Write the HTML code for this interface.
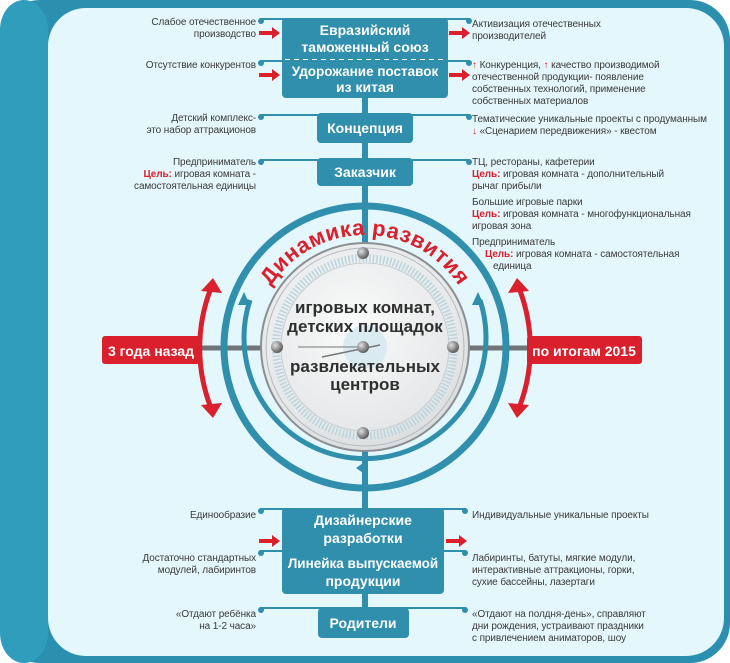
<!DOCTYPE html>
<html><head><meta charset="utf-8"><style>
html,body{margin:0;padding:0;background:#fff}
svg{display:block}
.t{font-family:"Liberation Sans Narrow","Liberation Sans",sans-serif;font-size:10px;fill:#3a3a3a;letter-spacing:-0.1px}
.b{font-family:"Liberation Sans","DejaVu Sans",sans-serif;font-weight:bold;fill:#fff;font-size:14px}
.r{fill:#d9202c;font-weight:bold}
</style></head><body>
<svg width="730" height="663" viewBox="0 0 730 663" xmlns="http://www.w3.org/2000/svg">
<defs>
<radialGradient id="face" cx="0.45" cy="0.4" r="0.7"><stop offset="0" stop-color="#fafbfb"/><stop offset="0.7" stop-color="#e6e8e9"/><stop offset="1" stop-color="#cfd3d5"/></radialGradient>
<radialGradient id="bolt" cx="0.35" cy="0.35" r="0.7"><stop offset="0" stop-color="#e0e0e0"/><stop offset="1" stop-color="#555"/></radialGradient>
<path id="arcT" d="M 253 347 A 112 112 0 0 1 477 347"/>
</defs>
<rect x="0" y="0" width="730" height="663" rx="40" fill="#2b90b0"/>
<rect x="0" y="0" width="48" height="663" rx="30" fill="#2f9dbb"/>
<rect x="48" y="8" width="676" height="648" rx="38" fill="#e4f7fc"/>

<line x1="365" y1="18" x2="365" y2="610" stroke="#2f8fac" stroke-width="6"/>
<line x1="200" y1="348" x2="530" y2="348" stroke="#6f7478" stroke-width="5"/>

<g fill="#2f8fac">
<rect x="282" y="18" width="166" height="80" rx="4"/>
<rect x="317" y="113" width="96" height="30" rx="4"/>
<rect x="317" y="158" width="96" height="28" rx="4"/>
<rect x="282" y="508" width="162" height="86" rx="4"/>
<rect x="318" y="608" width="91" height="30" rx="4"/>
</g>
<line x1="285" y1="60" x2="446" y2="60" stroke="#fff" stroke-width="2" stroke-dasharray="5,4"/>
<line x1="285" y1="551" x2="442" y2="551" stroke="#fff" stroke-width="2" stroke-dasharray="5,4"/>
<g stroke="#2f8fac" stroke-width="2" fill="#2f8fac">
<line x1="260" y1="19" x2="470" y2="19"/>
<line x1="260" y1="61" x2="470" y2="61"/>
<line x1="260" y1="115" x2="470" y2="115"/>
<line x1="260" y1="160" x2="470" y2="160"/>
<line x1="260" y1="509" x2="466" y2="509"/>
<line x1="260" y1="551" x2="466" y2="551"/>
<line x1="260" y1="608" x2="466" y2="608"/>
</g>
<g fill="#2f8fac">
<circle cx="261" cy="21" r="3"/><circle cx="469" cy="21" r="3"/>
<circle cx="261" cy="63" r="3"/><circle cx="469" cy="63" r="3"/>
<circle cx="261" cy="117" r="3"/><circle cx="469" cy="117" r="3"/>
<circle cx="261" cy="162" r="3"/><circle cx="469" cy="162" r="3"/>
<circle cx="261" cy="511" r="3"/><circle cx="465" cy="511" r="3"/>
<circle cx="261" cy="553" r="3"/><circle cx="465" cy="553" r="3"/>
<circle cx="261" cy="610" r="3"/><circle cx="465" cy="610" r="3"/>
</g>
<g fill="#d9202c">
<path d="M259 31h13v-4l8 6-8 6v-4h-13z"/>
<path d="M259 73h13v-4l8 6-8 6v-4h-13z"/>
<path d="M449 31h13v-4l8 6-8 6v-4h-13z"/>
<path d="M449 73h13v-4l8 6-8 6v-4h-13z"/>
<path d="M259 539h13v-4l8 6-8 6v-4h-13z"/>
<path d="M446 539h13v-4l8 6-8 6v-4h-13z"/>
</g>

<g class="b" text-anchor="middle">
<text x="365" y="35">Евразийский</text>
<text x="365" y="52">таможенный союз</text>
<text x="365" y="76" font-size="13.5">Удорожание поставок</text>
<text x="365" y="92">из китая</text>
<text x="365" y="133">Концепция</text>
<text x="365" y="177">Заказчик</text>
<text x="363" y="525">Дизайнерские</text>
<text x="363" y="543">разработки</text>
<text x="363" y="568" font-size="13.5">Линейка выпускаемой</text>
<text x="363" y="586">продукции</text>
<text x="363" y="628">Родители</text>
</g>

<g class="t" text-anchor="end">
<text x="256" y="25">Слабое отечественное</text>
<text x="256" y="37">производство</text>
<text x="256" y="68">Отсутствие конкурентов</text>
<text x="256" y="121">Детский комплекс-</text>
<text x="256" y="133">это набор аттракционов</text>
<text x="256" y="165">Предприниматель</text>
<text x="256" y="177"><tspan class="r">Цель:</tspan> игровая комната -</text>
<text x="256" y="189">самостоятельная единицы</text>
<text x="256" y="518">Единообразие</text>
<text x="256" y="561">Достаточно стандартных</text>
<text x="256" y="573">модулей, лабиринтов</text>
<text x="256" y="617">«Отдают ребёнка</text>
<text x="256" y="629">на 1-2 часа»</text>
</g>
<g class="t">
<text x="472" y="27">Активизация отечественных</text>
<text x="472" y="39">производителей</text>
<text x="472" y="68"><tspan class="r">↑</tspan> Конкуренция, <tspan class="r">↑</tspan> качество производимой</text>
<text x="472" y="80">отечественной продукции- появление</text>
<text x="472" y="92">собственных технологий, применение</text>
<text x="472" y="104">собственных материалов</text>
<text x="472" y="122">Тематические уникальные проекты с продуманным</text>
<text x="472" y="134"><tspan class="r">↓</tspan> «Сценарием передвижения» - квестом</text>
<text x="472" y="165">ТЦ, рестораны, кафетерии</text>
<text x="472" y="177"><tspan class="r">Цель:</tspan> игровая комната - дополнительный</text>
<text x="472" y="189">рычаг прибыли</text>
<text x="472" y="205">Большие игровые парки</text>
<text x="472" y="217"><tspan class="r">Цель:</tspan> игровая комната - многофункциональная</text>
<text x="472" y="229">игровая зона</text>
<text x="472" y="245">Предприниматель</text>
<text x="485" y="257"><tspan class="r">Цель:</tspan> игровая комната - самостоятельная</text>
<text x="493" y="269">единица</text>
<text x="472" y="518">Индивидуальные уникальные проекты</text>
<text x="472" y="561">Лабиринты, батуты, мягкие модули,</text>
<text x="472" y="573">интерактивные аттракционы, горки,</text>
<text x="472" y="585">сухие бассейны, лазертаги</text>
<text x="472" y="617">«Отдают на полдня-день», справляют</text>
<text x="472" y="629">дни рождения, устраивают праздники</text>
<text x="472" y="641">с привлечением аниматоров, шоу</text>
</g>

<g stroke="#d9202c" stroke-width="5" fill="none">
<path d="M 211 288 A 165 165 0 0 0 211 408"/>
<path d="M 519 288 A 165 165 0 0 1 519 408"/>
</g>
<g fill="#d9202c">
<path d="M201 291 l12 -13 l9 15 z"/>
<path d="M201 405 l12 13 l9 -15 z"/>
<path d="M529 291 l-12 -13 l-9 15 z"/>
<path d="M529 405 l-12 13 l-9 -15 z"/>
</g>
<rect x="102" y="336" width="98" height="28" rx="3" fill="#d9202c"/>
<rect x="527" y="336" width="115" height="28" rx="3" fill="#d9202c"/>
<text x="151" y="356" text-anchor="middle" class="b" font-size="14">3 года назад</text>
<text x="584" y="356" text-anchor="middle" class="b" font-size="14">по итогам 2015</text>

<circle cx="365" cy="347" r="141" fill="none" stroke="#2f8fac" stroke-width="7"/>
<path d="M 250 300 A 121 121 0 1 0 480 300" fill="none" stroke="#2f8fac" stroke-width="5"/>
<path d="M244 292 l-6 13 h12 z" fill="#2f8fac"/>
<path d="M478 292 l-6 13 h12 z" fill="#2f8fac"/>
<path d="M356 468 l10 -7 v14 z" fill="#2f8fac"/>

<circle cx="365" cy="347" r="104" fill="url(#face)" stroke="#8a8f92" stroke-width="2"/>
<circle cx="365" cy="347" r="99" fill="none" stroke="#b5babd" stroke-width="1"/>
<circle cx="365" cy="347" r="89" fill="none" stroke="#b9d4df" stroke-width="8" stroke-dasharray="1.5,2"/>
<circle cx="365" cy="347" r="84" fill="none" stroke="#c5ced2" stroke-width="1"/>
<circle cx="365" cy="347" r="22" fill="#cfe6ef" opacity="0.7"/>
<line x1="298" y1="347" x2="365" y2="347" stroke="#777" stroke-width="1"/>
<line x1="322" y1="357" x2="380" y2="345" stroke="#777" stroke-width="1.5"/>
<circle cx="363" cy="253" r="6" fill="url(#bolt)"/>
<circle cx="277" cy="347" r="6" fill="url(#bolt)"/>
<circle cx="453" cy="347" r="6" fill="url(#bolt)"/>
<circle cx="363" cy="433" r="6" fill="url(#bolt)"/>
<circle cx="363" cy="347" r="6" fill="url(#bolt)"/>

<text font-family="Liberation Sans, DejaVu Sans, sans-serif" font-weight="bold" font-size="22" fill="#d9202c" letter-spacing="0.5"><textPath href="#arcT" startOffset="50%" text-anchor="middle">Динамика развития</textPath></text>

<g font-family="Liberation Sans, DejaVu Sans, sans-serif" font-weight="bold" font-size="17" fill="#2f2f2f" text-anchor="middle">
<text x="365" y="313">игровых комнат,</text>
<text x="365" y="332">детских площадок</text>
<text x="365" y="372">развлекательных</text>
<text x="365" y="390">центров</text>
</g>
</svg>
</body></html>
